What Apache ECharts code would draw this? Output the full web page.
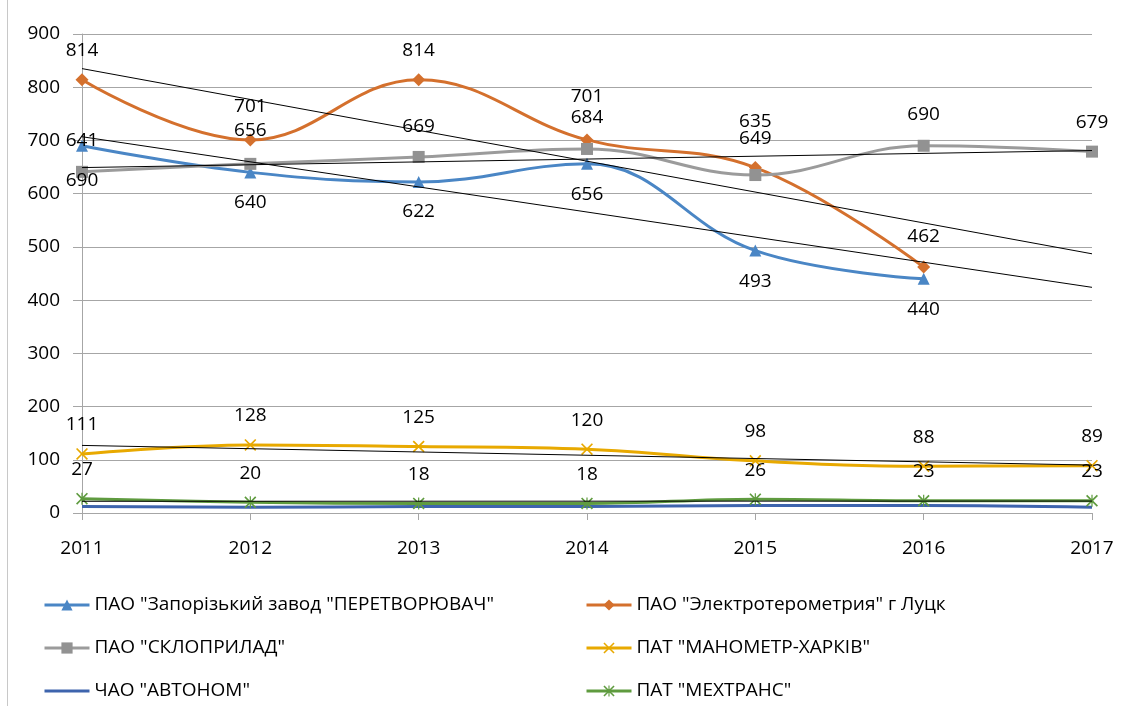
<!DOCTYPE html>
<html>
<head>
<meta charset="utf-8">
<script src="https://cdn.jsdelivr.net/npm/echarts@6/dist/echarts.min.js"></script>
<style>
  html, body { margin: 0; padding: 0; background: #fff; }
  #chart { width: 1129px; height: 706px; }
</style>
</head>
<body>
<div id="chart"></div>
<script>
// дані
const years = ['2011', '2012', '2013', '2014', '2015', '2016', '2017'];
const yTicks = { min: 0, max: 900, step: 100 };

const zaporizhzhia = [690, 640, 622, 656, 493, 440, null];
const lutsk = [814, 701, 814, 701, 649, 462, null];
const skloprylad = [641, 656, 669, 684, 635, 690, 679];
const manometr = [111, 128, 125, 120, 98, 88, 89];
const avtonom = [12, 11, 12, 12, 14, 14, 11];
const mekhtrans = [27, 20, 18, 18, 26, 23, 23];

// підписи точок так, як вони стоять на рисунку
const zaporizhzhiaText = ['641', '640', '622', '656', '493', '440'];
const lutskText = ['814', '701', '814', '701', '649', '462'];
const sklopryladText = ['690', '656', '669', '684', '635', '690', '679'];
const manometrText = ['111', '128', '125', '120', '98', '88', '89'];
const mekhtransText = ['27', '20', '18', '18', '26', '23', '23'];

// лінійні тренди: значення на 2011 і 2017
const trendLutsk = [835, 487];
const trendZaporizhzhia = [707, 424];
const trendSkloprylad = [649, 681];
const trendManometr = [127, 90];
const trendMekhtrans = [22, 22.4];

const names = [
  'ПАО "Запорізький завод "ПЕРЕТВОРЮВАЧ"',
  'ПАО "Электротерометрия" г Луцк',
  'ПАО "СКЛОПРИЛАД"',
  'ПАТ "МАНОМЕТР-ХАРКІВ"',
  'ЧАО "АВТОНОМ"',
  'ПАТ "МЕХТРАНС"'
];

// зсув підписів від точки по вертикалі
const zapDy = [-5, 30, 30, 31, 31, 31];
const lutskDy = [-29, -33, -29, -43, -29, -31];
const skloDy = [9, -33, -30, -31, -53, -31, -29];
const manoDy = [-29, -29, -29, -29, -29, -29, -29];
const mekhDy = [-29, -29, -29, -29, -29, -29, -29];

const font = 'Open Sans';
const crossPath = 'path://M0,1 L1,0 L5,4 L9,0 L10,1 L6,5 L10,9 L9,10 L5,6 L1,10 L0,9 L4,5 Z';
const starPath = 'path://M0,1 L1,0 L5,4 L9,0 L10,1 L6,5 L10,9 L9,10 L5,6 L1,10 L0,9 L4,5 Z M4.5,0 L5.5,0 L5.5,10 L4.5,10 Z';

function withLabels(values, texts, dys) {
  return values.map((v, i) => {
    if (v == null || texts[i] == null) return v;
    return {
      value: v,
      label: { show: true, position: 'inside', offset: [0, dys[i]], formatter: texts[i] }
    };
  });
}

function trend(name, ends) {
  return {
    name: name,
    type: 'line',
    data: [[years[0], ends[0]], [years[years.length - 1], ends[1]]],
    showSymbol: false,
    silent: true,
    z: 5,
    lineStyle: { color: '#000', width: 1 },
    emphasis: { disabled: true }
  };
}

function legendColumn(left, items) {
  return {
    orient: 'vertical',
    left: left,
    top: 594,
    height: 112,
    padding: 0,
    itemWidth: 45,
    itemHeight: 14,
    itemGap: 21,
    lineStyle: { width: 3 },
    textStyle: { color: '#000', fontSize: 19, fontFamily: font, lineHeight: 22 },
    data: items
  };
}

const labelStyle = { color: '#000', fontSize: 19, fontFamily: font };

const chart = echarts.init(document.getElementById('chart'));

const option = {
  animation: false,
  backgroundColor: '#fff',
  textStyle: { fontFamily: font },
  graphic: [{
    type: 'line',
    shape: { x1: 7.5, y1: 0, x2: 7.5, y2: 706 },
    style: { stroke: '#c8c8c8', lineWidth: 1 }
  }],
  grid: { left: 82, right: 37, top: 34, bottom: 193 },
  legend: [
    legendColumn(43, [names[0], names[2], { name: names[4], itemStyle: { opacity: 0 } }]),
    legendColumn(585, [names[1], names[3], names[5]])
  ],
  xAxis: {
    type: 'category',
    data: years,
    boundaryGap: false,
    axisLine: { lineStyle: { color: '#a6a6a6', width: 1 } },
    axisTick: { show: true, length: 7, alignWithLabel: true, lineStyle: { color: '#a6a6a6' } },
    axisLabel: { color: '#000', fontSize: 19, fontFamily: font, margin: 26 },
    splitLine: { show: false }
  },
  yAxis: {
    type: 'value',
    min: yTicks.min,
    max: yTicks.max,
    interval: yTicks.step,
    axisLine: { show: true, lineStyle: { color: '#a6a6a6', width: 1 } },
    axisTick: { show: true, length: 9, lineStyle: { color: '#a6a6a6' } },
    axisLabel: { color: '#000', fontSize: 19, fontFamily: font, margin: 22 },
    splitLine: { lineStyle: { color: '#a6a6a6', width: 1 } }
  },
  series: [
    {
      name: names[0], type: 'line', smooth: 0.4,
      data: withLabels(zaporizhzhia, zaporizhzhiaText, zapDy),
      symbol: 'triangle', symbolSize: 12,
      itemStyle: { color: '#4A86C5' },
      lineStyle: { color: '#4A86C5', width: 3 },
      label: labelStyle
    },
    {
      name: names[1], type: 'line', smooth: 0.4,
      data: withLabels(lutsk, lutskText, lutskDy),
      symbol: 'diamond', symbolSize: 13,
      itemStyle: { color: '#D4702D' },
      lineStyle: { color: '#D4702D', width: 3 },
      label: labelStyle
    },
    {
      name: names[2], type: 'line', smooth: 0.4,
      data: withLabels(skloprylad, sklopryladText, skloDy),
      symbol: 'rect', symbolSize: 12,
      itemStyle: { color: '#929292' },
      lineStyle: { color: '#9B9B9B', width: 3 },
      label: labelStyle
    },
    {
      name: names[3], type: 'line', smooth: 0.4,
      data: withLabels(manometr, manometrText, manoDy),
      symbol: crossPath, symbolSize: 12,
      itemStyle: { color: '#E8A900' },
      lineStyle: { color: '#E8A900', width: 3 },
      label: labelStyle
    },
    {
      name: names[4], type: 'line', smooth: 0.4,
      data: avtonom,
      showSymbol: false,
      itemStyle: { color: '#3E64AD' },
      lineStyle: { color: '#3E64AD', width: 3 }
    },
    {
      name: names[5], type: 'line', smooth: 0.4,
      data: withLabels(mekhtrans, mekhtransText, mekhDy),
      symbol: starPath, symbolSize: 12,
      itemStyle: { color: '#5F9B3F' },
      lineStyle: { color: '#5F9B3F', width: 3 },
      label: labelStyle
    },
    trend('trend-lutsk', trendLutsk),
    trend('trend-zap', trendZaporizhzhia),
    trend('trend-sklo', trendSkloprylad),
    trend('trend-mano', trendManometr),
    trend('trend-mekh', trendMekhtrans)
  ]
};

chart.setOption(option);
</script>
</body>
</html>
